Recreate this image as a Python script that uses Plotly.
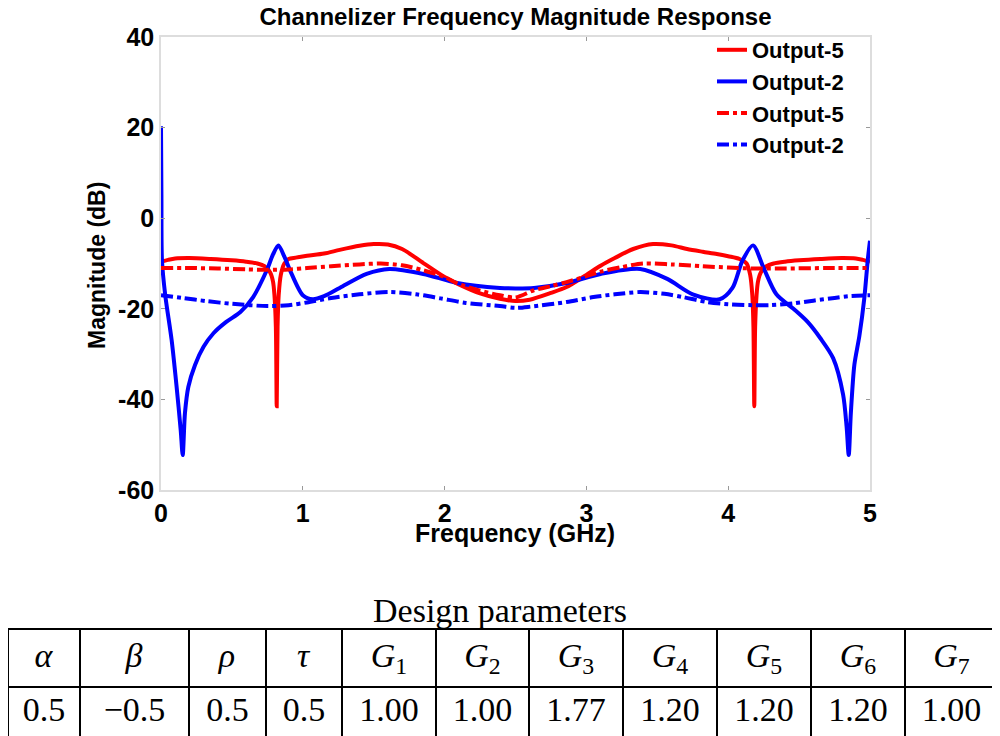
import plotly.graph_objects as go

# ---------------- data ----------------
out5_solid_x = [0.0, 0.05, 0.1, 0.2, 0.35, 0.5, 0.6, 0.68, 0.73, 0.77, 0.79, 0.80, 0.81, 0.816,
                0.822, 0.83, 0.845, 0.87, 0.9, 0.95, 1.03, 1.15, 1.26, 1.4, 1.5, 1.6, 1.7, 1.85,
                2.0, 2.1, 2.25, 2.39, 2.5, 2.6, 2.75, 2.86, 3.0, 3.1, 3.2, 3.33, 3.47, 3.6, 3.71,
                3.82, 3.92, 4.0, 4.08, 4.13, 4.155, 4.17, 4.178, 4.184, 4.19, 4.20, 4.21, 4.23,
                4.27, 4.32, 4.4, 4.5, 4.65, 4.8, 4.9, 4.95, 5.0]
out5_solid_y = [-9.6, -9.2, -8.9, -8.8, -9.0, -9.3, -9.6, -10.0, -10.6, -12.0, -14.0, -17.0, -24.0, -41.5,
                -24.0, -17.0, -12.5, -10.0, -9.0, -8.7, -8.3, -7.8, -7.0, -6.1, -5.7, -5.8, -6.8, -9.9,
                -13.0, -14.6, -16.6, -17.8, -18.3, -18.0, -16.5, -15.2, -12.5, -10.5, -8.8, -6.8, -5.7, -6.0, -6.8,
                -7.4, -7.9, -8.4, -9.0, -10.0, -12.5, -17.0, -24.0, -41.5, -24.0, -17.0, -14.0, -12.0,
                -10.6, -10.0, -9.6, -9.3, -9.0, -8.8, -8.9, -9.2, -9.6]

out2_solid_x = [0.0, 0.003, 0.007, 0.03, 0.075, 0.11, 0.139, 0.153, 0.169, 0.193, 0.24, 0.30, 0.37,
                0.46, 0.56, 0.65, 0.746, 0.79, 0.828, 0.87, 0.91, 1.0, 1.07, 1.15, 1.26, 1.45, 1.61,
                1.85, 2.09, 2.39, 2.5, 2.63, 2.86, 3.1, 3.38, 3.57, 3.75, 3.94, 4.03, 4.1, 4.175,
                4.25, 4.34, 4.46, 4.56, 4.65, 4.74, 4.81, 4.835, 4.85, 4.865, 4.89, 4.925, 4.96,
                4.985, 5.0]
out2_solid_y = [20.3, 5.0, -9.4, -17.0, -26.9, -37.2, -46.8, -52.3, -43.0, -37.2, -32.4, -28.4, -25.4,
                -22.9, -20.7, -17.4, -11.5, -8.0, -6.0, -8.5, -11.5, -17.0, -17.9, -17.2, -15.4, -12.3, -11.2,
                -12.3, -14.3, -15.4, -15.5, -15.4, -14.3, -12.3, -11.2, -13.4, -16.8, -17.9, -15.4, -9.4, -6.0,
                -11.0, -16.8, -20.0, -22.9, -26.5, -30.9, -38.9, -46.0, -52.3, -43.0, -32.3, -26.0, -17.6,
                -9.0, -5.0]

out5_dash_x = [0.0, 0.2, 0.4, 0.6, 0.75, 0.9, 1.03, 1.2, 1.4, 1.55, 1.7, 1.85, 2.0, 2.09, 2.25, 2.39,
               2.5, 2.63, 2.75, 2.86, 3.0, 3.1, 3.25, 3.4, 3.6, 3.82, 4.0, 4.17, 4.4, 4.7, 5.0]
out5_dash_y = [-11.0, -11.0, -11.1, -11.3, -11.4, -11.3, -11.0, -10.6, -10.2, -10.0, -10.4, -11.5, -13.0,
               -14.4, -16.0, -17.0, -17.5, -15.9, -15.0, -14.1, -12.8, -11.8, -10.8, -10.0, -10.2, -10.6,
               -10.9, -11.1, -11.1, -11.0, -11.0]

out2_dash_x = [0.0, 0.15, 0.32, 0.5, 0.75, 0.9, 1.03, 1.2, 1.4, 1.61, 1.8, 1.97, 2.15, 2.39, 2.5, 2.61,
               2.86, 3.05, 3.2, 3.38, 3.55, 3.68, 3.85, 4.0, 4.17, 4.3, 4.46, 4.6, 4.75, 4.85, 5.0]
out2_dash_y = [-17.0, -17.6, -18.3, -18.9, -19.4, -19.2, -18.6, -17.6, -16.8, -16.3, -16.8, -17.7, -18.7,
               -19.4, -19.8, -19.5, -18.5, -17.4, -16.8, -16.3, -16.7, -17.4, -18.5, -19.0, -19.2, -19.2,
               -18.8, -18.2, -17.6, -17.2, -17.0]

legend_names = ["Output-5", "Output-2", "Output-5", "Output-2"]

x_ticks = [0, 1, 2, 3, 4, 5]
y_ticks = [-60, -40, -20, 0, 20, 40]

table_title = "Design parameters"
param_names = ["<i>α</i>", "<i>β</i>", "<i>ρ</i>", "<i>τ</i>",
               "<i>G</i><sub>1</sub>", "<i>G</i><sub>2</sub>", "<i>G</i><sub>3</sub>",
               "<i>G</i><sub>4</sub>", "<i>G</i><sub>5</sub>", "<i>G</i><sub>6</sub>",
               "<i>G</i><sub>7</sub>"]
param_values = ["0.5", "−0.5", "0.5", "0.5", "1.00", "1.00", "1.77", "1.20", "1.20", "1.20", "1.00"]

# ---------------- layout helpers ----------------
# the page body adds an 8px margin, so the figure is sized 992x728 and placed
# so that it lands on the reference's pixel positions.
OFF = 8
W, H = 1000 - OFF, 736 - OFF


def fx(px):
    return (px - OFF) / W


def fy(py):
    return 1 - (py - OFF) / H


col_widths = [72, 109, 77, 76, 94, 93, 94, 94, 94, 94, 93]

RED = "#ff0000"
BLUE = "#0000ff"
SANS = "Liberation Sans, Arial, sans-serif"
SERIF = "Liberation Serif, Times New Roman, serif"

fig = go.Figure()
series = [
    (out5_solid_x, out5_solid_y, RED, "solid"),
    (out2_solid_x, out2_solid_y, BLUE, "solid"),
    (out5_dash_x, out5_dash_y, RED, "dashdot"),
    (out2_dash_x, out2_dash_y, BLUE, "dashdot"),
]
for (xs, ys, col, dash), name in zip(series, legend_names):
    fig.add_trace(go.Scatter(
        x=xs, y=ys, mode="lines", name=name,
        line=dict(color=col, width=4, dash=dash, shape="spline", smoothing=0.8),
    ))

fig.add_trace(go.Table(
    domain=dict(x=[0.0, fx(998.5)], y=[0.0, fy(629)]),
    columnwidth=col_widths,
    header=dict(values=param_names, height=54, align="center",
                line=dict(color="black", width=1.5), fill=dict(color="white"),
                font=dict(family=SERIF, size=34, color="black")),
    cells=dict(values=[[v] for v in param_values], height=51, align="center",
               line=dict(color="black", width=1.5), fill=dict(color="white"),
               font=dict(family=SERIF, size=34, color="black")),
))

axis_common = dict(
    showline=True, linecolor="#dddddd", linewidth=1.5, mirror="ticks",
    ticks="inside", ticklen=4, tickcolor="#999999", tickwidth=1,
    showgrid=False, zeroline=False, automargin=False,
    tickfont=dict(family=SANS, size=25, color="black", weight="bold"),
)

fig.update_layout(
    width=W, height=H,
    margin=dict(l=0, r=0, t=0, b=0, autoexpand=False),
    paper_bgcolor="white", plot_bgcolor="white",
    title=dict(text="Channelizer Frequency Magnitude Response",
               x=fx(515.5), xanchor="center", y=1.0, yanchor="top",
               xref="paper", yref="container", automargin=False,
               pad=dict(t=0, b=0, l=0, r=0),
               font=dict(family=SANS, size=24, color="black", weight="bold")),
    xaxis=dict(domain=[fx(161), fx(870)], range=[0, 5], tickvals=x_ticks,
               ticktext=[str(v) for v in x_ticks], **axis_common),
    yaxis=dict(domain=[fy(490), fy(37)], range=[-60, 40], tickvals=y_ticks,
               ticktext=[str(v) for v in y_ticks], **axis_common),
    showlegend=True,
    legend=dict(x=fx(712), y=fy(29), xanchor="left", yanchor="top",
                bgcolor="rgba(0,0,0,0)", borderwidth=0,
                font=dict(family=SANS, size=22, color="black", weight="bold"),
                tracegroupgap=0),
    annotations=[
        dict(text="Magnitude (dB)", x=fx(97), y=fy(266), xref="paper", yref="paper",
             xanchor="center", yanchor="middle", textangle=-90, showarrow=False,
             font=dict(family=SANS, size=23, color="black", weight="bold")),
        dict(text="Frequency (GHz)", x=fx(514.5), y=fy(533), xref="paper", yref="paper",
             xanchor="center", yanchor="middle", showarrow=False,
             font=dict(family=SANS, size=25, color="black", weight="bold")),
        dict(text=table_title, x=fx(500), y=fy(610), xref="paper", yref="paper",
             xanchor="center", yanchor="middle", showarrow=False,
             font=dict(family=SERIF, size=34, color="black")),
    ],
)

fig.write_html("out.html")
